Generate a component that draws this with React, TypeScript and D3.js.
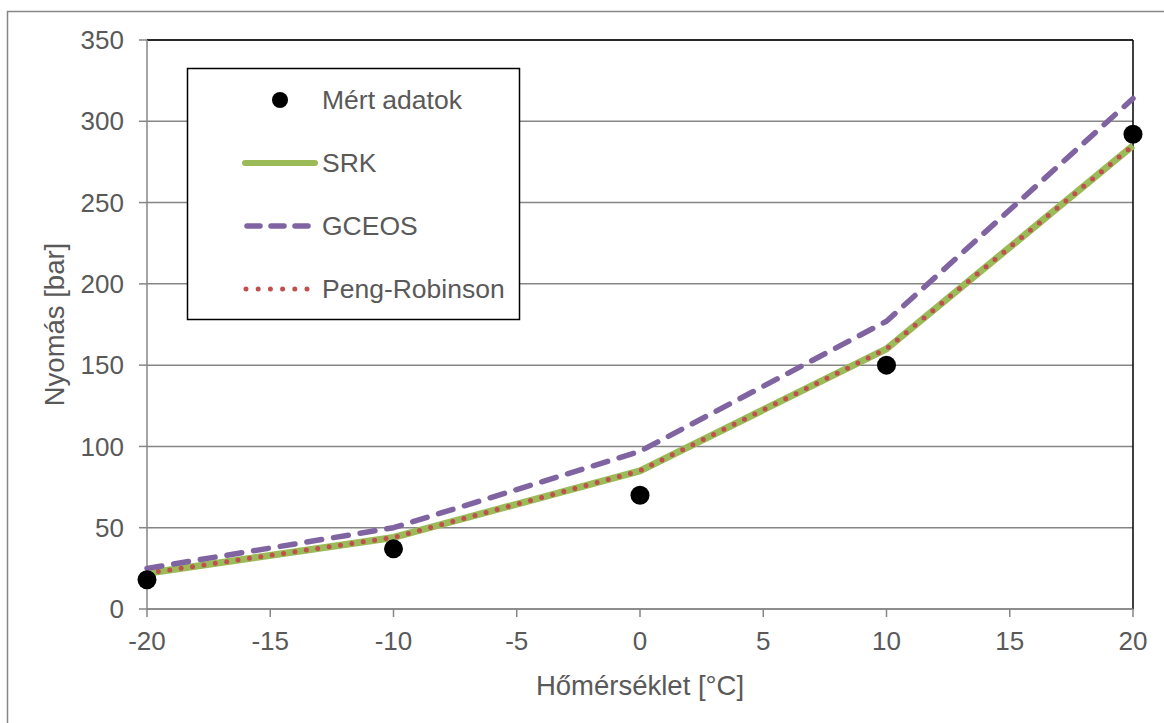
import React from "react";
import * as d3 from "d3";

const temps = [-20, -10, 0, 10, 20];
const measured = [18, 37, 70, 150, 292];
const srk = [22, 44, 85, 160, 285];
const gceos = [25, 50, 97, 177, 314];
const pengRobinson = [22, 44, 85, 160, 285];
const xTicks = [-20, -15, -10, -5, 0, 5, 10, 15, 20];
const yTicks = [0, 50, 100, 150, 200, 250, 300, 350];

const W = 1164;
const H = 723;
const left = 147;
const right = 1133;
const top = 40;
const bottom = 609;
const FONT = "Liberation Sans, Arial, sans-serif";
const TXT = "#595959";
const AX = "#868686";

export default function App() {
  const x = d3.scaleLinear().domain([-20, 20]).range([left, right]);
  const y = d3.scaleLinear().domain([0, 350]).range([bottom, top]);
  const line = (vals: number[]) =>
    d3.line<number>().x((_, i) => x(temps[i])).y((v) => y(v))(vals) || "";

  const legendItems = [
    { label: "Mért adatok", kind: "dot" },
    { label: "SRK", kind: "srk" },
    { label: "GCEOS", kind: "gceos" },
    { label: "Peng-Robinson", kind: "pr" },
  ];

  return (
    <svg
      width={W}
      height={H}
      style={{ position: "absolute", left: 0, top: 0, background: "#fff" }}
      fontFamily={FONT}
    >
      <rect x={7.5} y={11.5} width={1300} height={900} fill="#fff" stroke={AX} strokeWidth={1.5} />
      {yTicks.map((t) => (
        <line key={"g" + t} x1={left} x2={right} y1={y(t)} y2={y(t)} stroke={AX} strokeWidth={1.5} />
      ))}
      <line x1={left} x2={right} y1={top} y2={top} stroke="#000" strokeWidth={1.5} />
      <line x1={right} x2={right} y1={top} y2={bottom} stroke="#000" strokeWidth={1.5} />
      <line x1={left} x2={left} y1={top} y2={bottom} stroke={AX} strokeWidth={1.5} />
      <line x1={left} x2={right} y1={bottom} y2={bottom} stroke={AX} strokeWidth={1.5} />
      {yTicks.map((t) => (
        <g key={"y" + t}>
          <line x1={left - 8} x2={left} y1={y(t)} y2={y(t)} stroke={AX} strokeWidth={1.5} />
          <text x={124} y={y(t)} dy="0.35em" textAnchor="end" fontSize={26} fill={TXT}>
            {t}
          </text>
        </g>
      ))}
      {xTicks.map((t) => (
        <g key={"x" + t}>
          <line x1={x(t)} x2={x(t)} y1={bottom} y2={bottom + 8} stroke={AX} strokeWidth={1.5} />
          <text x={x(t)} y={650} textAnchor="middle" fontSize={26} fill={TXT}>
            {t}
          </text>
        </g>
      ))}
      <text x={(left + right) / 2} y={695} textAnchor="middle" fontSize={27.5} fill={TXT}>
        Hőmérséklet [°C]
      </text>
      <text
        transform={`translate(64,${(top + bottom) / 2}) rotate(-90)`}
        textAnchor="middle"
        fontSize={27.5}
        fill={TXT}
      >
        Nyomás [bar]
      </text>
      <path d={line(srk)} fill="none" stroke="#9BBB59" strokeWidth={7} strokeLinejoin="round" />
      <path
        d={line(gceos)}
        fill="none"
        stroke="#8064A2"
        strokeWidth={5.5}
        strokeDasharray="15 12"
        strokeLinecap="round"
        strokeLinejoin="round"
      />
      <path
        d={line(pengRobinson)}
        fill="none"
        stroke="#C0504D"
        strokeWidth={5}
        strokeDasharray="0 11.5"
        strokeLinecap="round"
      />
      {measured.map((v, i) => (
        <circle key={"m" + i} cx={x(temps[i])} cy={y(v)} r={9.5} fill="#000" />
      ))}
      <rect x={187.5} y={68.5} width={332} height={251} fill="#fff" stroke="#000" strokeWidth={1.5} />
      {legendItems.map((it, i) => {
        const cy = 100 + i * 63;
        return (
          <g key={it.label}>
            {it.kind === "dot" && <circle cx={280} cy={cy} r={8} fill="#000" />}
            {it.kind === "srk" && (
              <line x1={245} x2={315} y1={cy} y2={cy} stroke="#9BBB59" strokeWidth={6} strokeLinecap="round" />
            )}
            {it.kind === "gceos" && (
              <line x1={247} x2={313} y1={cy} y2={cy} stroke="#8064A2" strokeWidth={5.5} strokeDasharray="13 11" strokeLinecap="round" />
            )}
            {it.kind === "pr" && (
              <line x1={246} x2={316} y1={cy} y2={cy} stroke="#C0504D" strokeWidth={5} strokeDasharray="0 12.2" strokeLinecap="round" />
            )}
            <text x={322} y={cy} dy="0.35em" fontSize={26.5} fill={TXT}>
              {it.label}
            </text>
          </g>
        );
      })}
    </svg>
  );
}
